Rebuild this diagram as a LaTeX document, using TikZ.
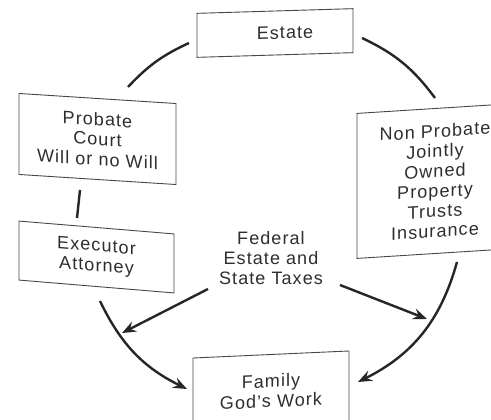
\documentclass[tikz,border=0pt]{standalone}
\usepackage{fontspec}
\newfontfamily\labfont{Liberation Sans}[LetterSpace=6.0]
\usetikzlibrary{arrows.meta}
\begin{document}
\begin{tikzpicture}[x=1pt,y=1pt,
  lab/.style={align=center, inner sep=0pt, font=\labfont\fontsize{18}{20}\selectfont, text=black!82},
  box/.style={lab, draw=black!72, line width=0.9pt},
  link/.style={draw=black!85, line width=2.4pt},
  arr/.style={link, -{Stealth[length=14pt,width=11pt,inset=5pt]}}]
\clip (0,0) rectangle (491,-420);
\fill[white] (0,0) rectangle (491,-420);
% boxes
\node[box, minimum width=156pt, minimum height=44pt, yslant=0.03] (estate) at (275,-33) {\hspace*{20pt}Estate};
\node[box, minimum width=157pt, minimum height=81pt, yslant=-0.064] (probate) at (97.5,-139) {Probate\\Court\\Will or no Will};
\node[box, minimum width=155pt, minimum height=59pt, yslant=-0.083] (executor) at (96.5,-257) {Executor\\Attorney};
\node[box, minimum width=156pt, minimum height=145pt, yslant=0.063] (nonprobate) at (435,-181) {Non Probate\\Jointly\\Owned\\Property\\Trusts\\Insurance};
\node[box, minimum width=156pt, minimum height=73pt, yslant=0.045] (family) at (271,-391) {Family\\God’s Work};
\node[lab] (taxes) at (271,-258) {Federal\\Estate and\\State Taxes};
% connector end points
\coordinate (estate-l) at (189,-43);
\coordinate (probate-t) at (128,-87);
\coordinate (estate-r) at (362,-38);
\coordinate (nonprobate-t) at (435,-98);
\coordinate (probate-b) at (80,-190);
\coordinate (executor-t) at (77,-218);
\coordinate (executor-b) at (100,-301);
\coordinate (family-l) at (187,-389);
\coordinate (nonprobate-b) at (457,-262);
\coordinate (family-r) at (358,-382);
\coordinate (taxes-l) at (208,-289);
\coordinate (leftarc) at (122,-333);
\coordinate (taxes-r) at (340,-285);
\coordinate (rightarc) at (427,-319);
% connectors
\draw[link] (estate-l) to[bend right=11] (probate-t);
\draw[link] (estate-r) to[bend left=14] (nonprobate-t);
\draw[link] (probate-b) -- (executor-t);
\draw[arr] (executor-b) to[bend right=19] (family-l);
\draw[arr] (nonprobate-b) to[bend left=24] (family-r);
\draw[arr] (taxes-l) -- (leftarc);
\draw[arr] (taxes-r) -- (rightarc);
\end{tikzpicture}
\end{document}
